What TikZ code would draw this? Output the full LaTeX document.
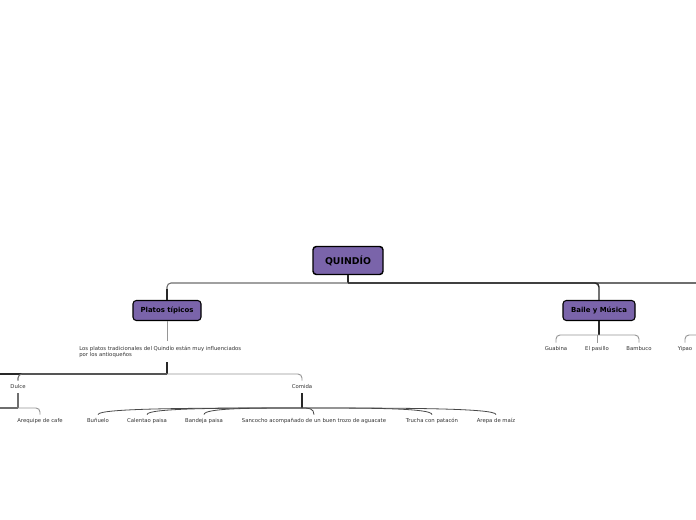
\documentclass[tikz,border=0pt]{standalone}
\usepackage{fontspec}
\setmainfont{DejaVu Sans}
\usetikzlibrary{calc}
\definecolor{nodepurple}{RGB}{122,100,170}
\definecolor{labeltext}{RGB}{51,51,51}
\definecolor{darkline}{RGB}{40,40,40}
\definecolor{midline}{RGB}{110,110,110}
\definecolor{lightline}{RGB}{150,150,150}
\tikzset{
  mainbox/.style={draw=black, line width=1.1pt, fill=nodepurple, rounded corners=2.5pt,
    minimum width=52.5pt, minimum height=21pt, inner sep=0pt,
    font=\fontsize{7}{8}\selectfont\bfseries},
  subbox/.style={draw=black, line width=0.8pt, fill=nodepurple, rounded corners=2.5pt,
    minimum height=15pt, inner sep=0pt, font=\fontsize{5.2}{6}\selectfont\bfseries},
  leaf/.style={text=labeltext, font=\fontsize{4}{4.5}\selectfont, inner xsep=0pt,
    inner ysep=2.6pt, text height=3pt, text depth=1pt},
  dconn/.style={draw=darkline, line width=1.1pt},
  gconn/.style={draw=midline, line width=0.8pt},
  lconn/.style={draw=lightline, line width=0.7pt},
  cconn/.style={draw=darkline!85!white, line width=0.6pt},
}
\begin{document}
\begin{tikzpicture}[x=0.75pt, y=-0.75pt]
\useasboundingbox[fill=white] (0,0) rectangle (696,520);

% nodes
\node[mainbox] (root) at (348,260.5) {QUIND\'IO};
\node[subbox, minimum width=51pt] (platos) at (167,310.5) {Platos t\'ipicos};
\node[subbox, minimum width=54pt] (baile) at (599,310.5) {Baile y M\'usica};

\node[anchor=north west, align=left, inner sep=0pt, text=labeltext,
      font=\fontsize{4}{4.6}\selectfont] (desc) at (79,346.2)
  {Los platos tradicionales del Quind\'io est\'an muy influenciados\\por los antioque\~nos};

\node[leaf] (dulce) at (18,387) {Dulce};
\node[leaf] (comida) at (302,387) {Comida};
\node[leaf] (areq) at (40,421) {Arequipe de cafe};
\node[leaf] (bunuelo) at (98,421) {Bu\~nuelo};
\node[leaf] (calentao) at (147,421) {Calentao paisa};
\node[leaf] (bandeja) at (204,421) {Bandeja paisa};
\node[leaf] (sancocho) at (314,421) {Sancocho acompa\~nado de un buen trozo de aguacate};
\node[leaf] (trucha) at (432,421) {Trucha con patac\'on};
\node[leaf] (arepa) at (496,421) {Arepa de ma\'iz};

\node[leaf] (guabina) at (556,349) {Guabina};
\node[leaf] (pasillo) at (597,349) {El pasillo};
\node[leaf] (bambuco) at (639,349) {Bambuco};
\node[leaf] (yipao) at (685,349) {Yipao};

% coordinates
\coordinate (rj) at (348,283);
\coordinate (re) at (696,283);
\coordinate (ptop) at (167,341);
\coordinate (pbot) at (167,362);
\coordinate (hb) at (167,374);
\coordinate (le) at (0,374);
\coordinate (dh) at (18,408);
\coordinate (dle) at (0,408);
\coordinate (ch) at (302,408);
\coordinate (bh) at (599,335);
\coordinate (ye) at (696,335);

% root connectors
\draw[gconn] (rj) -- (re);
\draw[dconn] (root.south) -- (rj);
\draw[gconn, rounded corners=3pt] (rj) -| ($(platos.north)+(0,-10)$);
\draw[dconn] ($(platos.north)+(0,-11)$) -- (platos.north);
\draw[dconn, rounded corners=3pt] (rj) -| (baile.north);

% platos branch
\draw[lconn] (platos.south) -- (ptop);
\draw[dconn] (pbot) -- (hb);
\draw[dconn] (hb) -- (le);
\draw[gconn, rounded corners=3pt] (hb) -| (dulce.north);
\draw[lconn, rounded corners=3pt] (hb) -| (comida.north);

% dulce
\draw[gconn] (dulce.south) -- (dh);
\draw[gconn] (dh) -- (dle);
\draw[lconn, rounded corners=3pt] (dh) -| (areq.north);

% comida
\draw[dconn, line width=1.5pt] (comida.south) -- (ch);
\foreach \n in {bunuelo,calentao,bandeja,sancocho,trucha,arepa}{
  \draw[cconn] (ch) .. controls ($(ch)!0.5!(\n.north |- ch)$) and (\n.north |- ch) .. (\n.north);
}

% baile branch
\draw[dconn] (baile.south) -- (bh);
\draw[lconn, rounded corners=3pt] (bh) -| (guabina.north);
\draw[lconn, rounded corners=3pt] (bh) -| (bambuco.north);
\draw[lconn] (bh -| pasillo.north) -- (pasillo.north);
\draw[lconn, rounded corners=3pt] (yipao.north) |- (ye);
\end{tikzpicture}
\end{document}
